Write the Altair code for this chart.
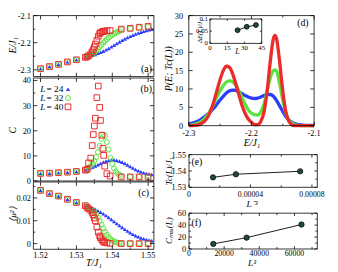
import altair as alt
import pandas as pd

SERIF = "Liberation Serif"
BLUE, GREEN, RED, DOT = "#2a3dff", "#5ce23e", "#ec2b2b", "#1f4a3a"

# ---------------- panels (a)-(c): shared low-T points ----------------
T_low = [1.5200, 1.5225, 1.5250, 1.5275, 1.5300, 1.5325]
E_low = [-2.296, -2.288, -2.280, -2.271, -2.263, -2.254]
C_low = [3.0, 3.1, 3.3, 3.5, 3.8, 4.3]
M_low = [0.0233, 0.0219, 0.0208, 0.0194, 0.0180, 0.0166]

# L = 24
T_24 = [1.5330, 1.53375, 1.5345, 1.53525, 1.5360, 1.53675, 1.5375, 1.53825, 1.5390,
        1.53975, 1.5405, 1.54125, 1.5420, 1.54275, 1.5435, 1.54425, 1.5450, 1.54575,
        1.5465, 1.54725, 1.5480, 1.54875, 1.5495, 1.55025, 1.5510]
E_24 = [-2.252, -2.249, -2.246, -2.243, -2.239, -2.235, -2.231, -2.226, -2.221, -2.215,
        -2.209, -2.203, -2.197, -2.191, -2.186, -2.181, -2.176, -2.172, -2.168, -2.164,
        -2.161, -2.158, -2.155, -2.152, -2.150]
C_24 = [4.6, 5.0, 5.5, 6.0, 6.5, 7.0, 7.5, 7.9, 8.2, 8.4, 8.4, 8.2, 7.9, 7.5, 7.0, 6.4,
        5.8, 5.2, 4.6, 4.1, 3.7, 3.3, 3.0, 2.8, 2.6]
M_24 = [0.0163, 0.0159, 0.0155, 0.0150, 0.0144, 0.0138, 0.0131, 0.0123, 0.0115, 0.0106,
        0.0097, 0.0088, 0.0079, 0.0071, 0.0063, 0.0055, 0.0048, 0.0041, 0.0035, 0.0030,
        0.0025, 0.0021, 0.0018, 0.0015, 0.0013]

# L = 32
T_32 = [1.5330, 1.5335, 1.5340, 1.5345, 1.5350, 1.5355, 1.5360, 1.5365, 1.5370, 1.5375,
        1.5380, 1.5385, 1.5390, 1.5395, 1.5400, 1.5405, 1.5410, 1.5415, 1.5420, 1.5425,
        1.5450, 1.5475, 1.5500]
E_32 = [-2.252, -2.249, -2.246, -2.242, -2.237, -2.230, -2.223, -2.216, -2.208, -2.200,
        -2.193, -2.187, -2.181, -2.176, -2.171, -2.167, -2.163, -2.160, -2.158, -2.151,
        -2.148, -2.144, -2.141]
C_32 = [4.5, 5.2, 6.0, 7.0, 8.0, 9.5, 11.5, 14.0, 16.8, 18.5, 18.0, 15.5, 12.5, 9.2, 6.8,
        5.0, 3.8, 2.9, 2.4, 2.0, 1.7, 1.6, 1.6]
M_32 = [0.0160, 0.0155, 0.0150, 0.0144, 0.0137, 0.0127, 0.0114, 0.0099, 0.0083, 0.0067,
        0.0052, 0.0039, 0.0029, 0.0020, 0.0013, 0.0009, 0.0006, 0.0004, 0.0003, 0.0001,
        0.0, 0.0, 0.0]

# L = 40
T_40 = [1.5330, 1.5334, 1.5340, 1.5344, 1.5347, 1.5350, 1.5353, 1.5357, 1.5361, 1.5365,
        1.5367, 1.5371, 1.5374, 1.5376, 1.5379, 1.5385, 1.5394, 1.5425, 1.5450, 1.5475,
        1.5500]
E_40 = [-2.252, -2.248, -2.241, -2.234, -2.226, -2.216, -2.205, -2.192, -2.176, -2.166,
        -2.163, -2.160, -2.159, -2.158, -2.157, -2.156, -2.155, -2.150, -2.147, -2.143,
        -2.140]
C_40 = [4.6, 7.2, 9.1, 14.1, 18.5, 21.9, 25.0, 33.2, 37.8, 29.3, 24.1, 18.2, 13.0, 10.2,
        5.9, 2.9, 2.0, 1.6, 1.6, 1.6, 1.6]
M_40 = [0.0158, 0.0152, 0.0146, 0.0136, 0.0126, 0.0112, 0.0100, 0.0072, 0.0050, 0.0033,
        0.0026, 0.0017, 0.0011, 0.0008, 0.0005, 0.0003, 0.0001, 0.0, 0.0, 0.0, 0.0]

# ---------------- panel (d): energy histograms ----------------
E_d = [-2.300, -2.295, -2.290, -2.285, -2.280, -2.275, -2.270, -2.265, -2.260, -2.255,
       -2.250, -2.245, -2.240, -2.235, -2.230, -2.225, -2.220, -2.215, -2.210, -2.205,
       -2.200, -2.195, -2.190, -2.185, -2.180, -2.175, -2.170, -2.165, -2.160, -2.155,
       -2.150, -2.145, -2.140, -2.135, -2.130, -2.125, -2.120, -2.115, -2.110, -2.105, -2.100]
P_24 = [0.4, 0.6, 0.9, 1.3, 1.8, 2.4, 3.1, 3.9, 4.8, 5.9, 7.0, 8.0, 8.9, 9.5, 9.7, 9.6,
        9.2, 8.7, 8.2, 7.8, 7.5, 7.4, 7.5, 7.8, 8.2, 8.5, 8.5, 8.0, 6.9, 5.4, 3.9, 2.5,
        1.5, 0.9, 0.5, 0.3, 0.2, 0.1, 0.1, 0.1, 0.0]
P_32 = [0.1, 0.2, 0.4, 0.7, 1.2, 1.9, 2.9, 4.3, 6.0, 7.8, 9.5, 10.9, 11.9, 12.2, 11.9,
        11.0, 9.4, 7.6, 5.8, 4.3, 3.4, 3.0, 2.9, 3.8, 5.9, 9.5, 13.0, 15.0, 14.9, 11.5,
        7.0, 3.4, 1.4, 0.6, 0.2, 0.1, 0.0, 0.0, 0.0, 0.0, 0.0]
P_40 = [0.0, 0.0, 0.1, 0.2, 0.6, 1.2, 2.3, 4.1, 6.6, 9.6, 12.6, 15.0, 16.2, 15.9, 14.1,
        11.4, 8.4, 5.5, 3.3, 1.8, 0.9, 0.3, 0.3, 1.2, 3.7, 9.4, 17.4, 23.7, 23.7, 17.4,
        9.4, 3.7, 1.1, 0.2, 0.0, 0.0, 0.0, 0.0, 0.0, 0.0, 0.0]
E_pk = [-2.1625]
P_32_pk = [15.2]
P_40_pk = [24.6]

# inset of (d)
L_in = [24, 32, 40]
dE_in = [0.054, 0.068, 0.075]

# ---------------- panels (e), (f) ----------------
Linv3 = [0.00007234, 0.00003052, 0.000015625]
Tc_L = [1.5398, 1.5380, 1.5361]
L3 = [13824, 32768, 64000]
Cmax = [8.5, 19.0, 41.0]

# ---------------- tick values and labels ----------------
X_L_MAJ, X_L_MIN = [1.52, 1.53, 1.54, 1.55], [1.525, 1.535, 1.545]
X_L_LAB = ["1.52", "1.53", "1.54", "1.55"]
Y_A_MAJ, Y_A_MIN, Y_A_LAB = [-2.3, -2.2, -2.1], [-2.25, -2.15], ["-2.3", "-2.2", "-2.1"]
Y_B_MAJ, Y_B_MIN, Y_B_LAB = [0, 10, 20, 30, 40], [5, 15, 25, 35], ["0", "10", "20", "30", "40"]
Y_C_MAJ, Y_C_MIN, Y_C_LAB = [0, 0.01, 0.02], [0.005, 0.015, 0.025], ["0", "0.01", "0.02"]
X_D_MAJ, X_D_MIN, X_D_LAB = [-2.3, -2.2, -2.1], [-2.25, -2.15], ["-2.3", "-2.2", "-2.1"]
Y_D_MAJ = [0, 5, 10, 15, 20, 25, 30]
Y_D_LAB = ["0", "5", "10", "15", "20", "25", "30"]
X_E_MAJ, X_E_MIN, X_E_LAB = [0, 0.00004, 0.00008], [0.00002, 0.00006], ["0", "0.00004", "0.00008"]
Y_E_MAJ, Y_E_MIN, Y_E_LAB = [1.53, 1.54, 1.55], [1.535, 1.545], ["1.53", "1.54", "1.55"]
X_F_MAJ, X_F_MIN = [0, 20000, 40000, 60000], [10000, 30000, 50000, 70000]
X_F_LAB = ["0", "20000", "40000", "60000"]
Y_F_MAJ, Y_F_MIN, Y_F_LAB = [0, 20, 40, 60], [10, 30, 50], ["0", "20", "40", "60"]
X_IN, X_IN_LAB = [0, 15, 30, 45], ["0", "15", "30", "45"]
Y_IN, Y_IN_LAB = [0, 0.05, 0.1], ["0", "0.05", "0.1"]

# ---------------- geometry (page pixels; view origin at page (13, 13)) ----------------
OX, OY = 13, 13
W, H = 325, 259


def P(x):
    return x - OX


def Q(y):
    return y - OY


def sc(domain, r0, r1):
    return alt.Scale(domain=domain, range=[r0, r1], nice=False, zero=False)


# panel rectangles (left, top, right, bottom) in page pixels
RA = (34, 12.5, 157.5, 75)
RB = (34, 76.5, 157.5, 182)
RC = (34, 183, 157.5, 252)
RD = (193.3, 12.5, 321.7, 125.3)
RE = (193.5, 155, 325, 188.5)
RF = (193.5, 215, 325, 251.7)
RI = (215, 16, 268, 41)

XS_L = sc([1.518, 1.5516], P(RA[0]), P(RA[2]))
YS_A = sc([-2.325, -2.1], Q(RA[3]), Q(RA[1]))
YS_B = sc([0, 41], Q(RB[3]), Q(RB[1]))
YS_C = sc([-0.0025, 0.027], Q(RC[3]), Q(RC[1]))
XS_D = sc([-2.3, -2.1], P(RD[0]), P(RD[2]))
YS_D = sc([0, 30], Q(RD[3]), Q(RD[1]))
XS_E = sc([0, 0.0000835], P(RE[0]), P(RE[2]))
YS_E = sc([1.53, 1.55], Q(RE[3]), Q(RE[1]))
XS_F = sc([0, 73000], P(RF[0]), P(RF[2]))
YS_F = sc([0, 60], Q(RF[3]), Q(RF[1]))
XS_I = sc([0, 45], P(RI[0]), P(RI[2]))
YS_I = sc([0, 0.1], Q(RI[3]), Q(RI[1]))

ONE = pd.DataFrame({"a": [0]})
LAYERS = []


def frame(r, sw=0.8):
    LAYERS.append(alt.Chart(ONE).mark_rect(filled=False, color="black", strokeWidth=sw).encode(
        x=alt.value(P(r[0])), x2=alt.value(P(r[2])), y=alt.value(Q(r[1])), y2=alt.value(Q(r[3]))))


def xticks(vals, xs, r, ln, sw=0.8):
    if not vals:
        return
    b = alt.Chart(pd.DataFrame({"v": vals})).mark_rule(color="black", strokeWidth=sw)
    x = alt.X("v:Q", scale=xs, axis=None)
    LAYERS.append(b.encode(x=x, y=alt.value(Q(r[3])), y2=alt.value(Q(r[3]) - ln)))
    LAYERS.append(b.encode(x=x, y=alt.value(Q(r[1])), y2=alt.value(Q(r[1]) + ln)))


def yticks(vals, ys, r, ln, sw=0.8):
    if not vals:
        return
    b = alt.Chart(pd.DataFrame({"v": vals})).mark_rule(color="black", strokeWidth=sw)
    y = alt.Y("v:Q", scale=ys, axis=None)
    LAYERS.append(b.encode(y=y, x=alt.value(P(r[0])), x2=alt.value(P(r[0]) + ln)))
    LAYERS.append(b.encode(y=y, x=alt.value(P(r[2])), x2=alt.value(P(r[2]) - ln)))


def xlabels(vals, labs, xs, ypage, size=8.5):
    LAYERS.append(alt.Chart(pd.DataFrame({"v": vals, "t": labs})).mark_text(
        font=SERIF, fontSize=size, baseline="middle", align="center", color="black").encode(
        x=alt.X("v:Q", scale=xs, axis=None), y=alt.value(Q(ypage)), text="t:N"))


def ylabels(vals, labs, ys, xpage, size=8.5):
    LAYERS.append(alt.Chart(pd.DataFrame({"v": vals, "t": labs})).mark_text(
        font=SERIF, fontSize=size, baseline="middle", align="right", color="black").encode(
        y=alt.Y("v:Q", scale=ys, axis=None), x=alt.value(P(xpage)), text="t:N"))


def txt(s, xpage, ypage, size=10, align="center", style="normal", angle=0):
    LAYERS.append(alt.Chart(ONE).mark_text(
        text=s, font=SERIF, fontSize=size, align=align, baseline="middle",
        fontStyle=style, angle=angle, color="black").encode(x=alt.value(P(xpage)), y=alt.value(Q(ypage))))


MK = {
    24: dict(shape="triangle-up", filled=True, color=BLUE, size=18, opacity=1),
    32: dict(shape="circle", filled=False, color=GREEN, size=26, strokeWidth=1, opacity=1),
    40: dict(shape="square", filled=False, color=RED, size=34, strokeWidth=1, opacity=1),
}


def sdf(T, E, C, M):
    return pd.DataFrame({"T": T_low + T, "E": E_low + E, "C": C_low + C, "M": M_low + M})


DF = {24: sdf(T_24, E_24, C_24, M_24), 32: sdf(T_32, E_32, C_32, M_32), 40: sdf(T_40, E_40, C_40, M_40)}

# ---------------- left column ----------------
for col, ys in (("E", YS_A), ("C", YS_B), ("M", YS_C)):
    for k in (24, 32, 40):
        LAYERS.append(alt.Chart(DF[k]).mark_point(**MK[k]).encode(
            x=alt.X("T:Q", scale=XS_L, axis=None), y=alt.Y(f"{col}:Q", scale=ys, axis=None)))

for r, ys, ymaj, ymin, ylab in ((RA, YS_A, Y_A_MAJ, Y_A_MIN, Y_A_LAB),
                                (RB, YS_B, Y_B_MAJ, Y_B_MIN, Y_B_LAB),
                                (RC, YS_C, Y_C_MAJ, Y_C_MIN, Y_C_LAB)):
    frame(r)
    xticks(X_L_MAJ, XS_L, r, 4)
    xticks(X_L_MIN, XS_L, r, 2)
    yticks(ymaj, ys, r, 4)
    yticks(ymin, ys, r, 2)
    ylabels(ymaj, ylab, ys, 31.5)
xlabels(X_L_MAJ, X_L_LAB, XS_L, 258)
txt("T/J\u2081", 96, 266.5, 10, style="italic")
txt("E/J\u2081", 13.5, 43, 10, style="italic", angle=270)
txt("C", 13.5, 130, 10, style="italic", angle=270)
txt("\u27e8\u03bc\u00b2\u27e9", 13.5, 216, 9.5, style="italic", angle=270)
txt("(a)", 155.5, 67, 10, align="right")
txt("(b)", 155.5, 88, 10, align="right")
txt("(c)", 152.5, 194.5, 10, align="right")
for yy, k in ((88, 24), (97, 32), (106, 40)):
    txt("L", 41, yy, 9.5, align="left", style="italic")
    txt(f"= {k}", 47.5, yy, 9.5, align="left")
    LAYERS.append(alt.Chart(ONE).mark_point(**MK[k]).encode(x=alt.value(P(69.5)), y=alt.value(Q(yy))))

# ---------------- (d) ----------------
d24 = pd.DataFrame({"E": E_d, "P": P_24})
d32 = pd.DataFrame({"E": E_d + E_pk, "P": P_32 + P_32_pk}).sort_values("E")
d40 = pd.DataFrame({"E": E_d + E_pk, "P": P_40 + P_40_pk}).sort_values("E")
for df, colr in ((d24, BLUE), (d32, GREEN), (d40, RED)):
    LAYERS.append(alt.Chart(df).mark_line(color=colr, strokeWidth=3.4, interpolate="monotone").encode(
        x=alt.X("E:Q", scale=XS_D, axis=None), y=alt.Y("P:Q", scale=YS_D, axis=None)))
frame(RD)
xticks(X_D_MAJ, XS_D, RD, 4)
xticks(X_D_MIN, XS_D, RD, 2)
yticks(Y_D_MAJ, YS_D, RD, 4)
ylabels(Y_D_MAJ, Y_D_LAB, YS_D, 187.5)
xlabels(X_D_MAJ, X_D_LAB, XS_D, 133)
txt("E/J\u2081", 258, 143, 10, style="italic")
txt("P(E; Tc(L))", 173, 67, 10, style="italic", angle=270)
txt("(d)", 316, 20, 10, align="right")

# inset
LAYERS.append(alt.Chart(ONE).mark_rect(color="white").encode(
    x=alt.value(P(RI[0])), x2=alt.value(P(RI[2])), y=alt.value(Q(RI[1])), y2=alt.value(Q(RI[3]))))
frame(RI, 0.8)
xticks(X_IN, XS_I, RI, 2, 0.7)
yticks(Y_IN, YS_I, RI, 2, 0.7)
din = pd.DataFrame({"L": L_in, "dE": dE_in})
LAYERS.append(alt.Chart(din).mark_line(color="black", strokeWidth=0.9).encode(
    x=alt.X("L:Q", scale=XS_I, axis=None), y=alt.Y("dE:Q", scale=YS_I, axis=None)))
LAYERS.append(alt.Chart(din).mark_circle(size=26, color=DOT, stroke="black", strokeWidth=0.7, opacity=1).encode(
    x=alt.X("L:Q", scale=XS_I, axis=None), y=alt.Y("dE:Q", scale=YS_I, axis=None)))
xlabels(X_IN, X_IN_LAB, XS_I, 45.5, 7)
ylabels(Y_IN, Y_IN_LAB, YS_I, 213, 7)
txt("L", 243, 50, 8, style="italic")
txt("\u0394E(L)/J\u2081", 205, 28.5, 7, style="italic", angle=270)

# ---------------- (e) ----------------
de = pd.DataFrame({"x": Linv3, "y": Tc_L})
LAYERS.append(alt.Chart(de).mark_line(color="black", strokeWidth=0.9).encode(
    x=alt.X("x:Q", scale=XS_E, axis=None), y=alt.Y("y:Q", scale=YS_E, axis=None)))
LAYERS.append(alt.Chart(de).mark_circle(size=30, color=DOT, stroke="black", strokeWidth=0.7, opacity=1).encode(
    x=alt.X("x:Q", scale=XS_E, axis=None), y=alt.Y("y:Q", scale=YS_E, axis=None)))
frame(RE)
xticks(X_E_MAJ, XS_E, RE, 3)
xticks(X_E_MIN, XS_E, RE, 2)
yticks(Y_E_MAJ, YS_E, RE, 3)
yticks(Y_E_MIN, YS_E, RE, 2)
ylabels(Y_E_MAJ, Y_E_LAB, YS_E, 190.5)
xlabels(X_E_MAJ, X_E_LAB, XS_E, 196, 8)
txt("L\u207b\u00b3", 258, 205.5, 9.5, style="italic")
txt("Tc(L)/J\u2081", 173.5, 172, 9, style="italic", angle=270)
txt("(e)", 196, 162.5, 10, align="left")

# ---------------- (f) ----------------
dff = pd.DataFrame({"x": L3, "y": Cmax})
LAYERS.append(alt.Chart(dff).mark_line(color="black", strokeWidth=0.9).encode(
    x=alt.X("x:Q", scale=XS_F, axis=None), y=alt.Y("y:Q", scale=YS_F, axis=None)))
LAYERS.append(alt.Chart(dff).mark_circle(size=30, color=DOT, stroke="black", strokeWidth=0.7, opacity=1).encode(
    x=alt.X("x:Q", scale=XS_F, axis=None), y=alt.Y("y:Q", scale=YS_F, axis=None)))
frame(RF)
xticks(X_F_MAJ, XS_F, RF, 3)
xticks(X_F_MIN, XS_F, RF, 2)
yticks(Y_F_MAJ, YS_F, RF, 3)
yticks(Y_F_MIN, YS_F, RF, 2)
ylabels(Y_F_MAJ, Y_F_LAB, YS_F, 190.5)
xlabels(X_F_MAJ, X_F_LAB, XS_F, 256.5, 8)
txt("L\u00b3", 258, 266.5, 9.5, style="italic")
txt("C\u2098\u2090\u2093(L)", 173.5, 233, 9, style="italic", angle=270)
txt("(f)", 196, 225, 10, align="left")

chart = alt.layer(*LAYERS).resolve_scale(x="independent", y="independent").properties(
    width=W, height=H, autosize=alt.AutoSizeParams(type="none"),
    padding={"left": 5, "top": 5, "right": 0, "bottom": 0}, background="white"
).configure_view(strokeWidth=0)

chart.save("out.html", embed_options={"renderer": "svg", "actions": False})
